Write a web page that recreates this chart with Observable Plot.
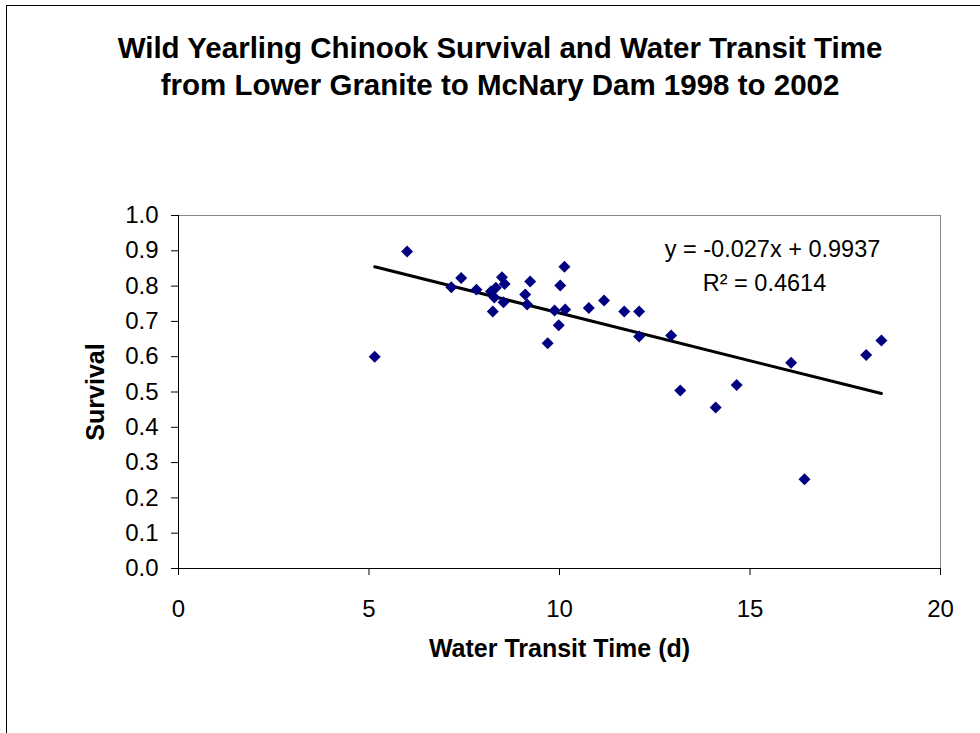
<!DOCTYPE html>
<html>
<head>
<meta charset="utf-8">
<script src="https://cdn.jsdelivr.net/npm/d3@7"></script>
<script src="https://cdn.jsdelivr.net/npm/@observablehq/plot@0.6"></script>
<style>
  html, body { margin: 0; padding: 0; background: #fff; }
  #wrap { position: relative; width: 980px; height: 733px; overflow: hidden; font-family: "Liberation Sans", Arial, sans-serif; }
  #frame { position: absolute; left: 6px; top: 5px; width: 1000px; height: 800px; border-left: 1px solid #000; border-top: 1px solid #000; z-index: 2; pointer-events: none; }
  #title { position: absolute; left: 6px; width: 988px; top: 29px; text-align: center; font-weight: bold; font-size: 29.5px; line-height: 37px; color: #000; z-index: 1; }
  #chart { position: absolute; left: 0; top: 0; }
</style>
</head>
<body>
<div id="wrap">
  <div id="chart"></div>
  <div id="title"></div>
  <div id="frame"></div>
</div>
<script>
const titleLines = [
  "Wild Yearling Chinook Survival and Water Transit Time",
  "from Lower Granite to McNary Dam 1998 to 2002"
];
const xLabel = "Water Transit Time (d)";
const yLabel = "Survival";

// Water transit time (days)
const transit = [6.00, 5.15, 7.42, 7.16, 7.82, 8.20, 8.33, 8.29, 8.25, 8.49, 8.56, 8.53,
  9.23, 9.10, 9.15, 9.69, 9.87, 9.98, 10.02, 10.13, 10.15, 10.77, 11.17, 11.70,
  12.09, 12.09, 12.93, 13.17, 14.10, 14.65, 16.08, 16.43, 18.05, 18.45];
// Survival
const survival = [0.898, 0.600, 0.823, 0.797, 0.790, 0.785, 0.795, 0.768, 0.728, 0.825, 0.806, 0.754,
  0.813, 0.776, 0.748, 0.638, 0.731, 0.689, 0.802, 0.855, 0.734, 0.738, 0.759, 0.728,
  0.728, 0.657, 0.660, 0.504, 0.456, 0.520, 0.583, 0.253, 0.605, 0.646];

const slope = -0.027;
const intercept = 0.9937;
const eqText = "y = -0.027x + 0.9937";
const r2Text = "R\u00B2 = 0.4614";

const xTicks = [0, 5, 10, 15, 20];
const yTicks = [0, 0.1, 0.2, 0.3, 0.4, 0.5, 0.6, 0.7, 0.8, 0.9, 1.0];

const points = transit.map((t, i) => ({x: t, y: survival[i]}));
const xExt = d3.extent(transit);
const trend = xExt.map(x => ({x, y: slope * x + intercept}));

document.getElementById("title").innerHTML = titleLines.join("<br>");

const font = "'Liberation Sans', Arial, sans-serif";

const chart = Plot.plot({
  width: 980,
  height: 733,
  marginLeft: 178,
  marginRight: 40,
  marginTop: 215,
  marginBottom: 165,
  style: {background: "transparent", color: "#000", fontFamily: font, fontSize: "24px"},
  x: {domain: [0, 20], label: null},
  y: {domain: [0, 1], label: null},
  marks: [
    Plot.frame({stroke: "#888"}),
    Plot.ruleX([0], {stroke: "#000"}),
    Plot.ruleY([0], {stroke: "#000"}),
    Plot.axisX({ticks: xTicks, tickSize: 7, tickPadding: 24, label: null, fontSize: 24}),
    Plot.axisY({ticks: yTicks, tickSize: 7, tickPadding: 13, tickFormat: d3.format(".1f"), label: null, fontSize: 24}),
    Plot.line(trend, {x: "x", y: "y", stroke: "#000", strokeWidth: 3}),
    Plot.dot(points, {x: "x", y: "y", symbol: "diamond2", r: 5.4, fill: "#000080", stroke: "none"}),
    Plot.text([eqText], {frameAnchor: "top-right", dx: -168, dy: 34, textAnchor: "middle", lineAnchor: "middle", fontSize: 23.5, fill: "#000"}),
    Plot.text([r2Text], {frameAnchor: "top-right", dx: -176, dy: 68, textAnchor: "middle", lineAnchor: "middle", fontSize: 23.5, fill: "#000"}),
    Plot.text([xLabel], {frameAnchor: "bottom", dy: 80, textAnchor: "middle", lineAnchor: "middle", fontSize: 25, fontWeight: "bold", fill: "#000"}),
    Plot.text([yLabel], {frameAnchor: "left", dx: -83, rotate: -90, textAnchor: "middle", lineAnchor: "middle", fontSize: 25, fontWeight: "bold", fill: "#000"})
  ]
});
document.getElementById("chart").appendChild(chart);
</script>
</body>
</html>
